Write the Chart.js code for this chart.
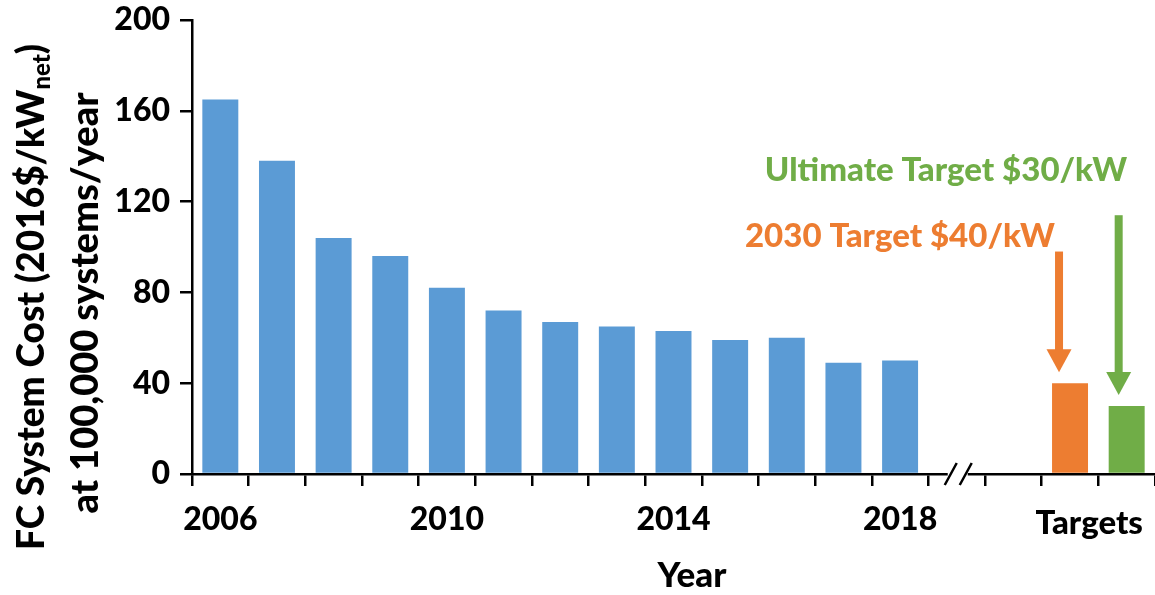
<!DOCTYPE html>
<html lang="en">
<head>
  <meta charset="UTF-8">
  <title>FC System Cost</title>
  <script src="https://cdn.jsdelivr.net/npm/chart.js"></script>
  <style>
    body {
      margin: 0;
      padding: 0;
      background-color: #fff;
    }
    #wrap {
      width: 1155px;
      height: 595px;
    }
  </style>
</head>
<body>
  <div id="wrap"><canvas id="costChart"></canvas></div>

  <script>
    // Cost per year (2016$/kWnet at 100,000 systems/year)
    const years = ['2006', '2007', '2008', '2009', '2010', '2011', '2012',
                   '2013', '2014', '2015', '2016', '2017', '2018'];
    const cost = [165, 138, 104, 96, 82, 72, 67, 65, 63, 59, 60, 49, 50];
    const shownYears = ['2006', '2010', '2014', '2018'];

    // Targets, shown after the axis break
    const targetNames = ['2030 Target $40/kW', 'Ultimate Target $30/kW'];
    const targetValues = [40, 30];
    const arrowStart = [98, 114];

    const yTicks = [0, 40, 80, 120, 160, 200];

    const BLUE = '#5B9BD5';
    const ORANGE = '#ED7D31';
    const GREEN = '#70AD47';
    const FONT = 'Lato, "Open Sans", sans-serif';
    const W = '900';

    // two empty slots for the axis break, then the target bars
    const labels = years.concat(['', ''], ['', '']);
    const values = cost.concat([null, null], targetValues);
    const colors = years.map(() => BLUE).concat([BLUE, BLUE, ORANGE, GREEN]);

    function font(size) {
      return W + ' ' + size + 'px ' + FONT;
    }

    const extras = {
      id: 'extras',
      afterDraw(chart) {
        const ctx = chart.ctx;
        const x = chart.scales.x;
        const y = chart.scales.y;
        const bars = chart.getDatasetMeta(0).data;
        const step = x.getPixelForValue(1) - x.getPixelForValue(0);

        ctx.save();

        // axis break between 2018 and the targets
        const bx = x.getPixelForValue(13);
        const by = chart.chartArea.bottom;
        ctx.fillStyle = '#fff';
        ctx.fillRect(bx - 9, by - 4, 20, 8);
        ctx.strokeStyle = '#000';
        ctx.lineWidth = 2.5;
        ctx.beginPath();
        ctx.moveTo(bx - 12, by + 11);
        ctx.lineTo(bx - 0, by - 11);
        ctx.moveTo(bx + 3, by + 11);
        ctx.lineTo(bx + 15, by - 11);
        ctx.stroke();

        // x label for the target group and axis title
        ctx.fillStyle = '#000';
        ctx.textAlign = 'center';
        ctx.textBaseline = 'middle';
        ctx.font = font(33);
        const tx = (x.getPixelForValue(15) + x.getPixelForValue(16)) / 2 - 0.16 * step;
        ctx.fillText('Targets', tx, 523);
        ctx.font = font(35);
        ctx.fillText('Year', 692, 576);

        // y axis title, two rotated lines with a subscript
        ctx.save();
        ctx.translate(32, 297);
        ctx.rotate(-Math.PI / 2);
        ctx.textAlign = 'left';
        const main = 'FC System Cost (2016$/kW';
        const sub = 'net';
        ctx.font = font(37);
        const w1 = ctx.measureText(main).width;
        ctx.font = font(24);
        const w2 = ctx.measureText(sub).width;
        ctx.font = font(37);
        const w3 = ctx.measureText(')').width;
        const start = -(w1 + w2 + w3) / 2;
        ctx.fillText(main, start, 0);
        ctx.font = font(24);
        ctx.fillText(sub, start + w1, 10);
        ctx.font = font(37);
        ctx.fillText(')', start + w1 + w2, 0);
        ctx.restore();

        ctx.save();
        ctx.translate(86, 303);
        ctx.rotate(-Math.PI / 2);
        ctx.textAlign = 'center';
        ctx.font = font(38);
        ctx.fillText('at 100,000 systems/year', 0, 0);
        ctx.restore();

        // target notes with arrows pointing at the bars
        const noteColors = [ORANGE, GREEN];
        const notePos = [[900, 236], [946, 170]];
        const arrowShift = [-11, -8];
        targetValues.forEach((v, i) => {
          const bar = bars[15 + i];
          ctx.fillStyle = noteColors[i];
          ctx.font = font(33);
          ctx.textAlign = 'center';
          ctx.textBaseline = 'middle';
          ctx.fillText(targetNames[i], notePos[i][0], notePos[i][1]);

          const ax = bar.x + arrowShift[i];
          const top = y.getPixelForValue(arrowStart[i]);
          const tip = y.getPixelForValue(v) - 11;
          const headLen = 23;
          ctx.fillRect(ax - 4, top, 8, tip - headLen - top + 1);
          ctx.beginPath();
          ctx.moveTo(ax - 12.5, tip - headLen);
          ctx.lineTo(ax + 12.5, tip - headLen);
          ctx.lineTo(ax, tip);
          ctx.closePath();
          ctx.fill();
        });

        ctx.restore();
      }
    };

    new Chart(document.getElementById('costChart'), {
      type: 'bar',
      data: {
        labels: labels,
        datasets: [{
          data: values,
          backgroundColor: colors,
          barPercentage: 0.635,
          categoryPercentage: 1.0
        }]
      },
      options: {
        responsive: true,
        maintainAspectRatio: false,
        animation: false,
        layout: {
          padding: { top: 20, right: 0, left: 0, bottom: 0 }
        },
        plugins: {
          legend: { display: false },
          tooltip: { enabled: false }
        },
        scales: {
          x: {
            offset: true,
            border: { color: '#000', width: 2.5 },
            grid: {
              display: true,
              drawOnChartArea: false,
              drawTicks: true,
              tickLength: 12,
              color: '#000',
              lineWidth: 2.5,
              offset: true
            },
            ticks: {
              autoSkip: false,
              maxRotation: 0,
              padding: 14,
              color: '#000',
              font: { family: FONT, size: 32, weight: W },
              callback: function(val, i) {
                const l = labels[i];
                return shownYears.includes(l) ? l : '';
              }
            },
            afterFit(scale) {
              scale.height = 121;
              scale.paddingLeft = 0;
              scale.paddingRight = 0;
            }
          },
          y: {
            min: 0,
            max: 200,
            border: { color: '#000', width: 2.5 },
            grid: {
              display: true,
              drawOnChartArea: false,
              drawTicks: true,
              tickLength: 12,
              color: '#000',
              lineWidth: 2.5
            },
            afterBuildTicks(scale) {
              scale.ticks = yTicks.map(v => ({ value: v }));
            },
            ticks: {
              padding: 10,
              color: '#000',
              font: { family: FONT, size: 32, weight: W }
            },
            afterFit(scale) {
              scale.width = 192;
              scale.paddingTop = 0;
              scale.paddingBottom = 0;
            }
          }
        }
      },
      plugins: [extras]
    });
  </script>
</body>
</html>
